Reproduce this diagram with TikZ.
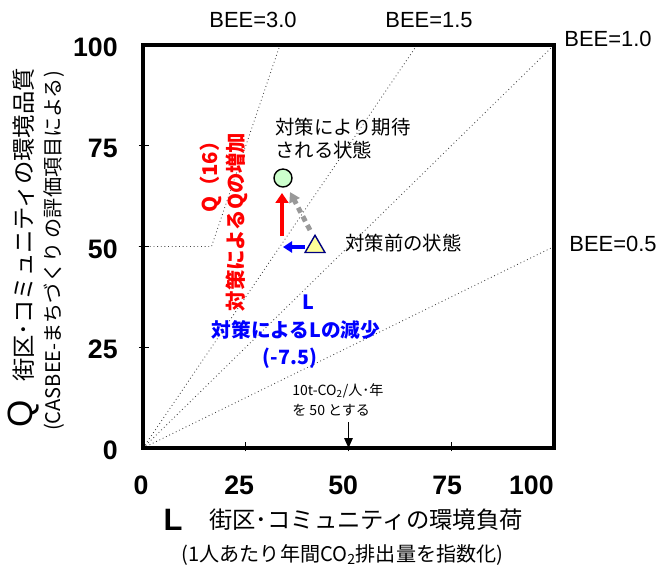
\documentclass[tikz,border=0pt]{standalone}
\usepackage{fontspec}
\setmainfont{Liberation Sans}
\newfontfamily\jp{Noto Sans CJK JP}
\usetikzlibrary{positioning}
\usetikzlibrary{arrows.meta}
\usetikzlibrary{shapes.geometric}
\definecolor{ptgreen}{HTML}{CCFFCC}
\definecolor{ptyellow}{HTML}{FFFF99}
\definecolor{ptnavy}{HTML}{000080}
\definecolor{arrgray}{HTML}{999999}
\tikzset{bee/.style={draw=black!75, dotted, line width=0.6pt}}
\tikzset{tickmark/.style={draw, line width=0.6pt}}
\tikzset{beelbl/.style={font=\fontsize{15.6}{18}\selectfont, inner sep=0pt}}
\tikzset{ticklbl/.style={font=\fontsize{19}{22}\selectfont\bfseries, inner sep=0pt}}
\tikzset{jpbig/.style={font=\jp\fontsize{16.6}{20}\selectfont, inner sep=0pt}}
\tikzset{jpsub/.style={font=\jp\fontsize{14.3}{17}\selectfont, inner sep=0pt}}
\tikzset{jpmid/.style={font=\jp\fontsize{13.8}{16.3}\selectfont, inner sep=0pt}}
\tikzset{jpsmall/.style={font=\jp\fontsize{10}{14.2}\selectfont, inner sep=0pt}}
\tikzset{redlbl/.style={font=\jp\bfseries\fontsize{14.5}{17}\selectfont, text=red, inner sep=0pt}}
\tikzset{bluelbl/.style={font=\jp\bfseries\fontsize{14}{17}\selectfont, text=blue, inner sep=0pt}}
\tikzset{ptcirc/.style={draw, circle, line width=1pt, fill=ptgreen, minimum size=12.8pt, inner sep=0pt}}
\tikzset{pttri/.style={draw=ptnavy, regular polygon, regular polygon sides=3, line width=1pt, fill=ptyellow, minimum size=16.3pt, inner sep=0pt}}
\tikzset{redarr/.style={draw=red, line width=3.5pt, -{Triangle[width=9pt,length=7pt]}}}
\tikzset{bluearr/.style={draw=blue, line width=3.5pt, -{Triangle[width=8pt,length=6.5pt]}}}
\tikzset{grayarr/.style={draw=arrgray, line width=3.5pt, dash pattern=on 4pt off 3pt, -{Triangle[width=8pt,length=7pt]}}}

\begin{document}
\begin{tikzpicture}[x=0.10275cm,y=0.10075cm]
\useasboundingbox (-34.79,-29.28) rectangle (128.22,111.17);

% BEE lines
\draw[bee] (0,0) -- (100,100);
\draw[bee] (0,0) -- (66.67,100);
\draw[bee] (0,0) -- (100,50);
\draw[bee] (-1,50) -- (16.67,50) -- (33.33,100);

\foreach \v in {25,50,75} {
  \draw[tickmark] (\v,-0.8) -- (\v,1.5);
  \draw[tickmark] (-1,\v) -- (1.5,\v);
}
\draw[line width=2.5pt] (0,0) rectangle (100,100);

\foreach \v in {0,25,50,75,100}
  \node[ticklbl, anchor=east] (y\v) at (-6.1,\v-0.6) {\v};
\foreach \v/\p in {0/-0.5,25/23.4,50/48.7,75/74,100/94.5}
  \node[ticklbl] (x\v) at (\p,-9.2) {\v};

\node[beelbl] (bee30) at (26.76,106.2) {BEE=3.0};
\node[beelbl] (bee15) at (69.59,106.2) {BEE=1.5};
\node[beelbl] (bee10) at (113.14,101.49) {BEE=1.0};
\node[beelbl] (bee05) at (114.36,50.62) {BEE=0.5};

% axis titles
\node[font=\fontsize{25}{28}\selectfont, rotate=90, inner sep=0pt] (qsym) at (-28.95,8.44) {Q};
\node[jpbig, rotate=90] (qtitle) at (-28.95,55.33) {街区･コミュニティの環境品質};
\node[jpsub, rotate=90] (qsub) at (-21.65,48.88) {(CASBEE-まちづくり の評価項目による)};
\node[font=\fontsize{22}{26}\selectfont\bfseries, inner sep=0pt] (lsym) at (7.30,-17.87) {L};
\node[jpbig] (ltitle) at (54.26,-17.87) {街区･コミュニティの環境負荷};
\node[jpsub] (lsub) at (48.54,-26.55) {(1人あたり年間CO\textsubscript{2}排出量を指数化)};

% states
\node[jpmid, align=left, anchor=west] (aftlbl) at (32.1,76.8) {対策により期待\\される状態};
\node[jpmid, anchor=west] (beflbl) at (49.15,50.87) {対策前の状態};

\coordinate (qa) at (33.82,52.6);
\coordinate (qb) at (33.82,63.28);
\coordinate (la) at (39.42,49.88);
\coordinate (lb) at (34.06,49.88);
\coordinate (ga) at (40.63,54.09);
\coordinate (gb) at (35.77,63.52);
\draw[grayarr] (ga) -- (gb);
\draw[redarr] (qa) -- (qb);
\draw[bluearr] (la) -- (lb);
\node[ptcirc] (after) at (34.06,67.0) {};
\node[pttri] (before) at (41.85,49.95) {};

\node[redlbl, rotate=90] (qinc) at (16.55,68.49) {Q（16）};
\node[redlbl, rotate=90] (qincj) at (22.87,56.08) {対策によるQの増加};
\node[bluelbl] (ldec) at (40.15,36.23) {L};
\node[bluelbl] (ldecj) at (37.23,29.28) {対策によるLの減少};
\node[bluelbl] (ldecv) at (35.77,22.33) {(-7.5)};

% note at L=50
\node[jpsmall, align=left, anchor=west] (note) at (36.25,11.9) {10t-CO\textsubscript{2}/人･年\\を 50 とする};
\coordinate (n50) at (50,6.45);
\coordinate (x50) at (50,0);
\draw[line width=0.8pt, -{Triangle[width=6pt,length=7pt]}] (n50) -- (x50);
\end{tikzpicture}
\end{document}
